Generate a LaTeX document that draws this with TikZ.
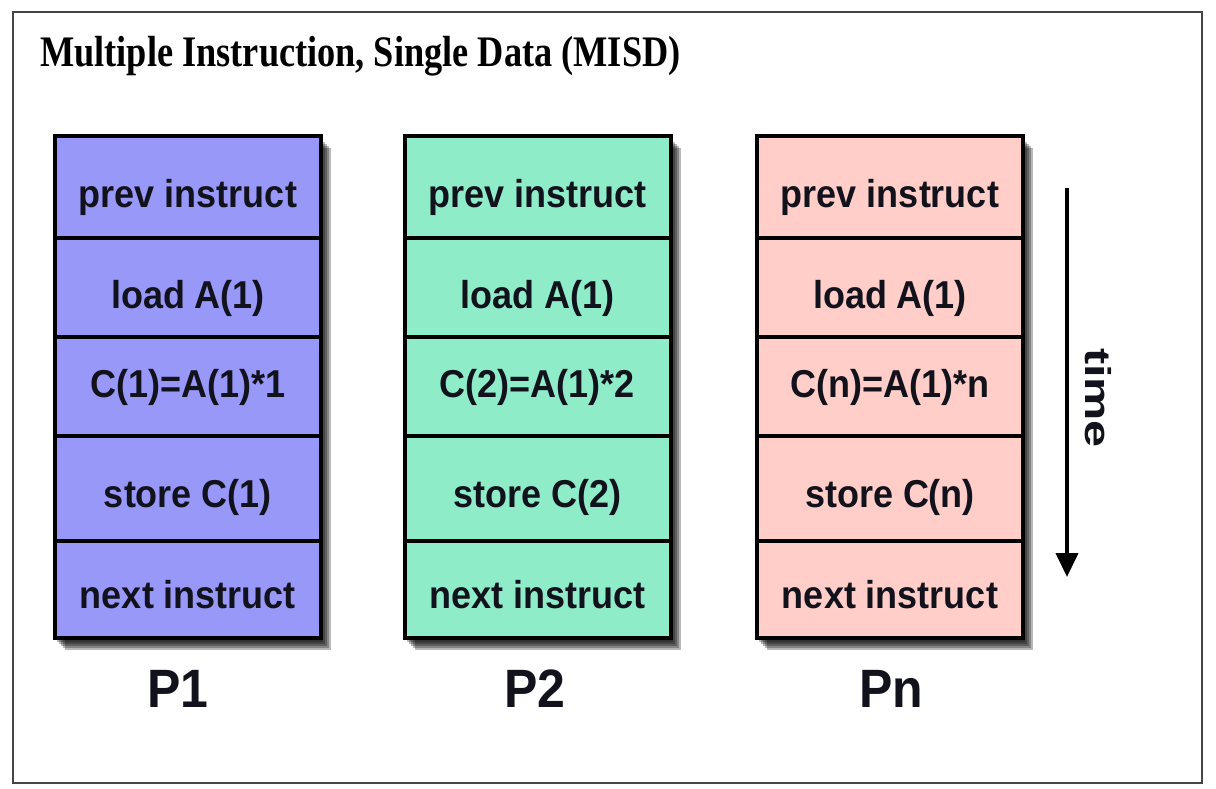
\documentclass[tikz,border=0pt]{standalone}
\usepackage{fontspec}
\setmainfont{Liberation Sans}
\newfontfamily\titlefont{Liberation Serif}
\usepackage{graphicx}
\usetikzlibrary{arrows.meta}
\definecolor{pone}{RGB}{152,152,248}
\definecolor{ptwo}{RGB}{142,236,201}
\definecolor{pn}{RGB}{255,206,200}
\definecolor{ink}{RGB}{18,18,28}
\definecolor{framec}{RGB}{70,70,70}
\newcommand{\vst}[1]{\scalebox{1}[1.08]{#1}}
\begin{document}
\begin{tikzpicture}[x=1pt,y=-1pt,
  shadowlayer/.style 2 args={preaction={fill=black, fill opacity=0.28, draw=none,
      transform canvas={xshift=#1, yshift=#2}}},
  cell/.style={draw=black, line width=4pt, minimum width=266pt, inner sep=0pt, outer sep=0pt,
    font=\fontsize{36}{36}\selectfont\bfseries, text=ink},
  colbox/.style={draw=black, line width=4pt, minimum width=266pt, minimum height=502pt,
    inner sep=0pt, outer sep=0pt,
    shadowlayer={2pt}{-4pt}, shadowlayer={4pt}{-6pt}, shadowlayer={6pt}{-8pt},
    shadowlayer={8pt}{-10pt}, shadowlayer={10pt}{-12pt}},
  rowA/.style={minimum height=102pt, text height=50pt, text depth=10pt},
  rowB/.style={minimum height=99pt, text height=50.5pt, text depth=9.5pt},
  rowC/.style={minimum height=99pt, text height=40.5pt, text depth=19.5pt},
  rowD/.style={minimum height=105pt, text height=48.5pt, text depth=11.5pt},
  rowE/.style={minimum height=97pt, text height=48.5pt, text depth=11.5pt},
  plabel/.style={font=\fontsize{50}{50}\selectfont\bfseries, text=ink, anchor=base, inner sep=0pt},
  timearrow/.style={line width=4pt, -{Triangle[width=22pt,length=24pt]}}
]
\path[use as bounding box] (0,0) rectangle (1216,788);
\fill[white] (0,0) rectangle (1216,788);
\draw[line width=2pt, draw=framec] (13,12) rectangle (1202,783);

\node[anchor=base west, inner sep=0pt, text=black,
  font=\titlefont\fontsize{36.3}{36}\bfseries\selectfont] (title) at (40,66)
  {\scalebox{1}[1.2]{Multiple Instruction, Single Data (MISD)}};

% column P1
\node[colbox, fill=pone] (c1) at (188,387) {};
\node[cell, rowA, fill=pone] (c1a) at (188,187)   {\vst{prev instruct}};
\node[cell, rowB, fill=pone] (c1b) at (188,287.5) {\vst{load A(1)}};
\node[cell, rowC, fill=pone] (c1c) at (188,386.5) {\vst{C(1)=A(1)*1}};
\node[cell, rowD, fill=pone] (c1d) at (188,488.5) {\vst{store C(1)}};
\node[cell, rowE, fill=pone] (c1e) at (188,589.5) {\vst{next instruct}};
\node[plabel] (l1) at (178,707) {\vst{P1}};

% column P2
\node[colbox, fill=ptwo] (c2) at (537.5,387) {};
\node[cell, rowA, fill=ptwo] (c2a) at (537.5,187)   {\vst{prev instruct}};
\node[cell, rowB, fill=ptwo] (c2b) at (537.5,287.5) {\vst{load A(1)}};
\node[cell, rowC, fill=ptwo] (c2c) at (537.5,386.5) {\vst{C(2)=A(1)*2}};
\node[cell, rowD, fill=ptwo] (c2d) at (537.5,488.5) {\vst{store C(2)}};
\node[cell, rowE, fill=ptwo] (c2e) at (537.5,589.5) {\vst{next instruct}};
\node[plabel] (l2) at (535,707) {\vst{P2}};

% column Pn
\node[colbox, fill=pn] (c3) at (890,387) {};
\node[cell, rowA, fill=pn] (c3a) at (890,187)   {\vst{prev instruct}};
\node[cell, rowB, fill=pn] (c3b) at (890,287.5) {\vst{load A(1)}};
\node[cell, rowC, fill=pn] (c3c) at (890,386.5) {\vst{C(n)=A(1)*n}};
\node[cell, rowD, fill=pn] (c3d) at (890,488.5) {\vst{store C(n)}};
\node[cell, rowE, fill=pn] (c3e) at (890,589.5) {\vst{next instruct}};
\node[plabel] (l3) at (891,707) {\vst{Pn}};

% time arrow
\coordinate (ts) at (1067,188);
\coordinate (te) at (1067,577);
\draw[timearrow] (ts) -- (te);
\node[rotate=-90, inner sep=0pt, text=ink, font=\fontsize{36}{36}\selectfont\bfseries] (time) at (1098,398)
  {\scalebox{1.35}[1]{time}};
\end{tikzpicture}
\end{document}
